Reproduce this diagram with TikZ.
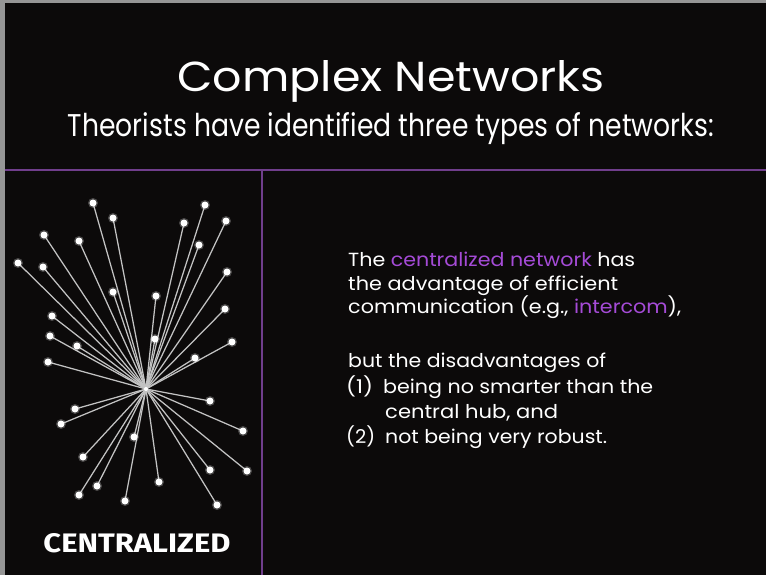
\documentclass[tikz,border=0pt]{standalone}
\usepackage{fontspec}
\setmainfont{Poppins}
\newfontfamily\labelfont{Fira Sans}
\usepackage{graphicx}
\definecolor{bgblack}{RGB}{12,10,10}
\definecolor{rulepurple}{RGB}{112,62,140}
\definecolor{hl}{RGB}{165,75,215}
\definecolor{edgegray}{RGB}{195,195,195}
\definecolor{framegray}{RGB}{150,150,150}
% stretch a line of text horizontally to a given width, keeping its height
\newcommand{\fitwidth}[2]{\resizebox{#1}{\height}{#2}}
\tikzset{
  dot/.style={circle,fill=white,inner sep=0pt,minimum size=7pt},
  dotglow/.style={circle,fill=white,opacity=0.25,inner sep=0pt,minimum size=10pt},
  spoke/.style={draw=edgegray,line width=1.25pt},
  bodytext/.style={anchor=base west,text=white,inner sep=0pt,font=\fontsize{19}{23}\selectfont},
}
\begin{document}
\begin{tikzpicture}[x=1pt,y=-1pt]
  % slide background and its thin light edge
  \fill[bgblack] (0,0) rectangle (766,575);
  \useasboundingbox (0,0) rectangle (766,575);
  \fill[framegray] (0,0) rectangle (766,3);
  \fill[framegray] (0,0) rectangle (5,575);

  % title block
  \node[text=white,inner sep=0pt,anchor=base] (title) at (391,92)
    {\resizebox{427pt}{31pt}{\fontsize{52}{60}\selectfont Complex Networks}};
  \node[text=white,inner sep=0pt,anchor=base] (subtitle) at (391,137)
    {\resizebox{646pt}{24pt}{\fontsize{26}{30}\selectfont Theorists have identified three types of networks:}};

  % purple dividers
  \coordinate (hl) at (5,170);
  \coordinate (hr) at (766,170);
  \coordinate (vt) at (262,170);
  \coordinate (vb) at (262,575);
  \draw[rulepurple,line width=2pt] (hl) -- (hr);
  \draw[rulepurple,line width=2pt] (vt) -- (vb);

  % the hub and its leaves
  \coordinate (hub) at (146,389);
  \foreach \i/\x/\y in {
     1/93/203, 2/113/218, 3/44/235, 4/79/241, 5/18/263, 6/43/267,
     7/113/292, 8/156/296, 9/52/316, 10/50/336, 11/77/346, 12/48/362,
     13/155/339, 14/205/205, 15/184/223, 16/226/221, 17/199/245, 18/227/272,
     19/225/309, 20/232/342, 21/195/358, 22/210/401, 23/75/409, 24/61/424,
     25/243/431, 26/134/437, 27/83/457, 28/210/470, 29/247/471, 30/159/482,
     31/97/486, 32/79/495, 33/125/501, 34/217/505}
  {
    \coordinate (p\i) at (\x,\y);
  }
  \foreach \i in {1,...,34} {
    \draw[spoke] (hub) -- (p\i);
  }
  \foreach \i in {1,...,34} {
    \node[dotglow] (g\i) at (p\i) {};
    \node[dot] (n\i) at (p\i) {};
  }
  \node[circle,fill=white,inner sep=0pt,minimum size=4pt] (hubdot) at (hub) {};

  % caption of the network
  \node[text=white,inner sep=0pt,anchor=base] (caption) at (137,552)
    {\resizebox{187pt}{19pt}{\labelfont\bfseries\fontsize{22}{26}\selectfont CENTRALIZED}};

  % explanatory text
  \node[bodytext] (t1) at (348,266) {\fitwidth{287pt}{The \textcolor{hl}{centralized network} has}};
  \node[bodytext] (t2) at (348,290) {\fitwidth{270pt}{the advantage of efficient}};
  \node[bodytext] (t3) at (348,313) {\fitwidth{333pt}{communication (e.g., \textcolor{hl}{intercom}),}};
  \node[bodytext] (t4) at (348,367) {\fitwidth{258pt}{but the disadvantages of}};
  \node[bodytext] (t5a) at (346,393) {\fitwidth{27pt}{(1)}};
  \node[bodytext] (t5) at (383,393) {\fitwidth{270pt}{being no smarter than the}};
  \node[bodytext] (t6) at (385,418) {\fitwidth{173pt}{central hub, and}};
  \node[bodytext] (t7a) at (346,443) {\fitwidth{29pt}{(2)}};
  \node[bodytext] (t7) at (385,443) {\fitwidth{222pt}{not being very robust.}};
\end{tikzpicture}
\end{document}
